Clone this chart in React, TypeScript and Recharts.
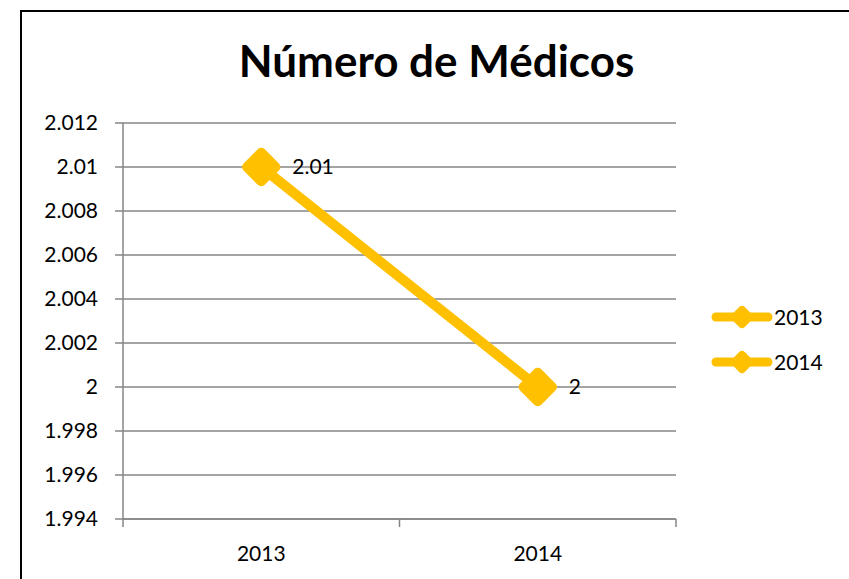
import { LineChart, Line, XAxis, YAxis, CartesianGrid, LabelList } from "recharts";

const years = ["2013", "2014"];
const medicos = [2.01, 2.0];
const yTicks = [1.994, 1.996, 1.998, 2, 2.002, 2.004, 2.006, 2.008, 2.01, 2.012];
const xTicks = [0, 0.5, 1, 1.5, 2];

const data = years.map((year, i) => ({ x: i + 0.5, year, value: medicos[i] }));

const FONT = "Lato, 'Open Sans', sans-serif";
const GOLD = "#FFC000";
const GRID = "#868686";

const fmt = (v: number) => String(Number(v.toFixed(3)));

const Diamond = (props: any) => {
  const { cx, cy } = props;
  if (cx == null || cy == null) return null;
  return (
    <rect
      x={cx - 15}
      y={cy - 15}
      width={30}
      height={30}
      rx={5}
      fill={GOLD}
      transform={`rotate(45 ${cx} ${cy})`}
    />
  );
};

const XTick = (props: any) => {
  const { x, y, payload } = props;
  const v = payload.value;
  if (Number.isInteger(v)) {
    return <line x1={x} x2={x} y1={y} y2={y + 8} stroke={GRID} strokeWidth={1.5} />;
  }
  return (
    <text
      x={x}
      y={y + 33}
      textAnchor="middle"
      dominantBaseline="central"
      fontSize={21}
      fontFamily={FONT}
      fill="#000"
    >
      {years[Math.floor(v)]}
    </text>
  );
};

export default function App() {
  return (
    // fixed box so nothing overflows the window and no scrollbars show
    <div style={{ position: "fixed", left: 0, top: 0, width: 849, height: 579, overflow: "hidden", background: "#fff" }}>
      <div style={{ position: "absolute", left: 8, top: 8, width: 841, height: 571 }}>
        {/* chart frame: only its top and left edges fall inside the window */}
        <div
          style={{
            position: "absolute",
            left: 12,
            top: 2,
            width: 829,
            height: 569,
            borderTop: "2px solid #000",
            borderLeft: "2px solid #000",
            boxSizing: "border-box",
          }}
        />
        <div
          style={{
            position: "absolute",
            left: 0,
            top: 30,
            width: 857,
            textAlign: "center",
            fontFamily: FONT,
            fontWeight: 700,
            fontSize: 44,
            lineHeight: "44px",
            color: "#000",
          }}
        >
          Número de Médicos
        </div>
        <div style={{ position: "absolute", left: 0, top: 0 }}>
          <LineChart
            width={841}
            height={571}
            data={data}
            margin={{ top: 115, right: 173, bottom: 0, left: 0 }}
          >
            <CartesianGrid vertical={false} stroke={GRID} strokeWidth={1.5} />
            <XAxis
              dataKey="x"
              type="number"
              domain={[0, 2]}
              ticks={xTicks}
              interval={0}
              height={60}
              tickLine={false}
              tickSize={0}
              tickMargin={0}
              axisLine={{ stroke: GRID, strokeWidth: 1.5 }}
              tick={<XTick />}
            />
            <YAxis
              domain={[1.994, 2.012]}
              ticks={yTicks}
              interval={0}
              width={115}
              tickSize={8}
              tickMargin={17}
              tickFormatter={fmt}
              axisLine={{ stroke: GRID, strokeWidth: 1.5 }}
              tickLine={{ stroke: GRID, strokeWidth: 1.5 }}
              tick={{ fill: "#000", fontSize: 21, fontFamily: FONT }}
            />
            <Line
              dataKey="value"
              stroke={GOLD}
              strokeWidth={10}
              dot={<Diamond />}
              activeDot={false}
              isAnimationActive={false}
            >
              <LabelList
                dataKey="value"
                position="right"
                offset={31}
                formatter={(v: any) => fmt(Number(v))}
                fill="#000"
                fontSize={21}
                fontFamily={FONT}
              />
            </Line>
          </LineChart>
        </div>
        <div style={{ position: "absolute", left: 702, top: 286 }}>
          {years.map((y) => (
            <div key={y} style={{ display: "flex", alignItems: "center", height: 45 }}>
              <svg width={64} height={30}>
                <line x1={6} x2={58} y1={15} y2={15} stroke={GOLD} strokeWidth={9} strokeLinecap="round" />
                <rect x={23} y={6} width={18} height={18} rx={4} fill={GOLD} transform="rotate(45 32 15)" />
              </svg>
              <span style={{ fontFamily: FONT, fontSize: 21, color: "#000", marginLeft: 0 }}>{y}</span>
            </div>
          ))}
        </div>
      </div>
    </div>
  );
}
